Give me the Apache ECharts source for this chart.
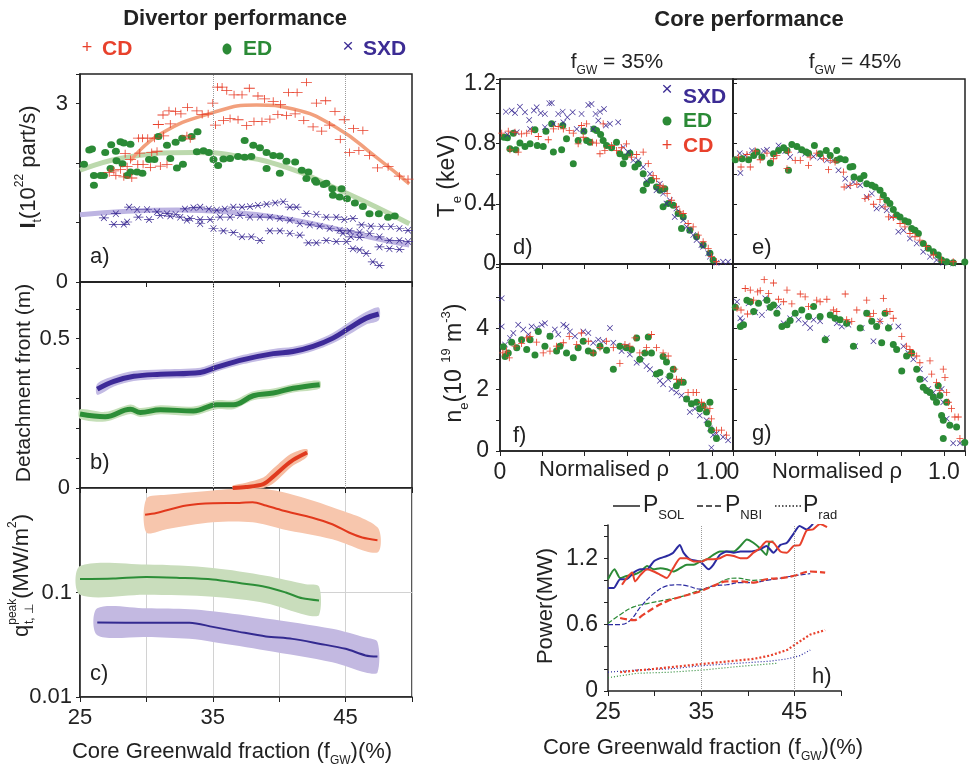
<!DOCTYPE html>
<html>
<head>
<meta charset="utf-8">
<script src="https://cdn.jsdelivr.net/npm/echarts@6.0.0/dist/echarts.min.js"></script>
<style>
html,body{margin:0;padding:0;background:#fff;}
#main{width:976px;height:767px;}
</style>
</head>
<body>
<div id="main"></div>
<script>
var FONT = 'Liberation Sans, Arial, sans-serif';
var RED = '#e8412c', GREEN = '#2b8a36', BLUE = '#3c2c94', INK = '#222';

// ---- a) particle flux I_t vs fGW  [fGW, I_t]
var aCD = [[42.05,3.36],[35.35,3.28],[35.7,3.28],[36.05,3.22],[36.6,3.15],[37.2,3.15],[37.75,3.26],[38.4,3.13],[38.9,3.08],[39.55,3.04],[40.1,2.99],[40.7,3.19],[41.35,3.19],[42.8,3.01],[43.5,3.05],[44.2,2.87],[44.9,2.73],[45.6,2.58],[46.3,2.55],[44.6,2.40],[45.3,2.18],[46.0,2.21],[46.8,2.13],[47.4,1.92],[48.2,1.94],[49.05,1.78],[49.7,1.73],[35.0,3.01],[34.65,2.83],[34.2,2.82],[33.8,2.88],[33.1,2.94],[32.6,2.83],[32.2,2.87],[31.7,2.88],[31.25,2.81],[30.9,2.65],[35.2,2.64],[35.8,2.72],[36.3,2.75],[36.9,2.73],[37.55,2.63],[38.1,2.70],[38.7,2.70],[39.3,2.74],[39.9,2.82],[40.55,2.80],[41.2,2.83],[41.85,2.72],[42.55,2.61],[43.2,2.54],[43.8,2.64],[29.4,2.42],[29.7,2.42],[30.1,2.42],[30.6,2.42],[31.3,2.46],[30.8,2.20],[30.4,2.18],[29.5,2.17],[28.8,2.06],[28.4,2.16],[29.75,1.98],[31.05,1.95],[31.55,1.98],[30.3,1.93],[29.35,1.98],[28.55,1.94],[27.55,1.87],[27.2,1.84],[28.05,1.89],[28.3,1.77],[28.9,1.75],[27.7,1.79],[33.05,2.46],[33.3,2.41],[31.8,2.66]];
var aED = [[25.3,1.98],[25.7,2.22],[25.9,2.24],[26.05,1.63],[26.05,1.79],[26.8,1.79],[26.9,2.18],[27.35,2.31],[27.7,2.20],[28.05,2.36],[28.3,2.34],[28.8,2.32],[27.75,2.04],[28.8,1.85],[29.3,1.85],[29.7,1.83],[28.2,1.99],[28.55,1.79],[30.2,2.06],[30.6,2.06],[30.9,2.45],[31.55,2.30],[32.2,2.35],[31.8,2.08],[32.3,1.92],[32.75,1.98],[32.7,2.42],[33.4,2.45],[33.85,2.53],[33.8,2.19],[34.3,2.21],[34.7,2.18],[35.05,2.06],[35.4,1.96],[35.8,2.07],[36.3,2.08],[36.9,2.11],[37.4,2.10],[37.9,2.11],[37.4,2.38],[38.05,2.30],[38.55,2.26],[39.05,2.18],[39.55,2.13],[40.05,2.12],[40.55,2.03],[41.2,2.02],[39.05,1.91],[40.05,1.83],[41.7,1.88],[42.2,1.85],[42.8,1.68],[43.35,1.64],[44.0,1.57],[44.7,1.57],[44.05,1.46],[44.55,1.43],[45.1,1.40],[45.7,1.33],[46.3,1.27],[46.8,1.15],[47.5,1.15],[48.2,1.09],[48.7,1.11],[42.05,1.74],[42.7,1.71],[43.55,1.66],[27.3,1.91],[26.55,1.79]];
var aSXD = [[28.7,1.26],[29.3,1.22],[30.05,1.22],[30.8,1.18],[31.55,1.15],[32.2,1.14],[32.9,1.23],[33.55,1.25],[34.05,1.26],[34.7,1.23],[35.3,1.21],[35.9,1.23],[36.55,1.26],[37.2,1.26],[37.8,1.27],[38.4,1.29],[39.05,1.31],[39.7,1.33],[40.3,1.35],[40.8,1.26],[41.3,1.26],[42.05,1.15],[42.8,1.14],[43.55,1.09],[44.3,1.09],[44.9,1.05],[45.55,1.07],[46.2,0.96],[46.9,0.94],[47.7,0.93],[48.4,0.93],[49.05,0.90],[49.7,0.87],[26.8,1.08],[27.7,1.15],[28.55,1.01],[29.4,1.09],[30.2,1.05],[31.05,1.12],[31.8,1.11],[32.55,1.09],[33.3,1.07],[34.05,1.05],[34.8,1.05],[35.55,1.09],[36.3,1.09],[37.05,1.12],[37.8,1.09],[38.55,1.09],[39.3,1.09],[40.05,1.07],[40.8,1.04],[41.55,0.98],[42.3,0.96],[43.05,0.94],[43.8,0.90],[44.55,0.87],[45.3,0.86],[46.05,0.84],[46.8,0.82],[47.55,0.76],[48.3,0.70],[49.05,0.70],[49.7,0.68],[27.55,0.97],[28.3,0.97],[33.05,1.04],[34.05,0.98],[35.05,0.90],[35.8,0.86],[36.55,0.83],[37.2,0.76],[37.9,0.76],[38.55,0.70],[39.3,0.86],[40.05,0.86],[40.8,0.82],[41.55,0.79],[42.2,0.66],[42.8,0.66],[43.55,0.70],[44.3,0.68],[45.05,0.68],[45.55,0.56],[46.05,0.54],[46.55,0.48],[47.05,0.34],[47.55,0.28],[44.8,0.82],[45.4,0.76],[46.05,0.75],[47.55,0.59],[48.3,0.56],[49.05,0.55]];
var aFitCDx = [28.8,31.05,35,38.3,41.05,44.3,47.3,49.8];
var aFitCDy = [2.04,2.49,2.85,2.98,2.91,2.60,2.10,1.65];
var aFitEDx = [25,28.55,33.55,36.55,40.55,44.05,47.3,49.8];
var aFitEDy = [1.88,2.10,2.18,2.13,1.93,1.60,1.26,0.98];
var aFitSXDx = [25,28.55,32.3,36.05,39.8,43.55,47.3,49.8];
var aFitSXDy = [1.13,1.19,1.21,1.18,1.09,0.93,0.73,0.62];

// ---- b) detachment front position (m)
var bSXDx = [26.3,27.55,29.05,31.05,34.05,35.3,37.3,39.55,41.05,42.55,44.05,45.3,46.55,47.5];
var bSXDy = [0.331,0.357,0.374,0.381,0.387,0.405,0.430,0.450,0.457,0.474,0.502,0.536,0.569,0.583];
var bSXDlo = [0.312,0.340,0.358,0.366,0.372,0.390,0.415,0.435,0.442,0.459,0.485,0.515,0.548,0.562];
var bSXDhi = [0.349,0.375,0.392,0.397,0.403,0.421,0.446,0.466,0.473,0.490,0.520,0.556,0.590,0.605];
var bEDx = [25,26.9,28.8,29.55,31.05,33.55,35.3,36.55,38.05,39.55,41.05,43.05];
var bEDy = [0.248,0.239,0.264,0.253,0.262,0.258,0.279,0.279,0.309,0.318,0.334,0.346];
var bEDlo = [0.232,0.223,0.248,0.238,0.247,0.243,0.264,0.264,0.294,0.303,0.320,0.333];
var bEDhi = [0.264,0.255,0.280,0.268,0.277,0.273,0.294,0.294,0.324,0.333,0.348,0.359];
var bCDx = [36.5,37.5,38.8,39.55,40.3,41.05,42.1];
var bCDy = [0.0,0.003,0.013,0.038,0.068,0.094,0.119];
var bCDlo = [0,0,0,0.015,0.045,0.075,0.105];
var bCDhi = [0.008,0.018,0.035,0.065,0.095,0.118,0.13];

// ---- c) peak heat flux (MW/m2), log scale
var cCDx = [29.9,30.75,33.0,35.0,37.0,38.0,39.0,40.25,42.5,44.0,45.25,46.25,47.4];
var cCDy = [0.556,0.577,0.68,0.716,0.72,0.73,0.68,0.61,0.52,0.45,0.375,0.336,0.316];
var cCDbx = [30.0,31.5,35.0,38.0,40.25,44.0,47.4];
var cCDhi = [0.789,0.86,0.948,1.0,0.914,0.654,0.420];
var cCDlo = [0.375,0.404,0.469,0.469,0.404,0.324,0.241];
var cEDx = [25,27.5,30,32.5,35,37,39,40.5,41.75,43];
var cEDy = [0.1346,0.136,0.141,0.138,0.133,0.123,0.113,0.100,0.088,0.084];
var cEDbx = [25,30,35,39,42,43];
var cEDhi = [0.179,0.185,0.172,0.145,0.12,0.114];
var cEDlo = [0.095,0.095,0.091,0.079,0.061,0.061];
var cSXDx = [26.3,30,33.25,35,37,39,41,43,45,46.5,47.4];
var cSXDy = [0.0516,0.0513,0.0513,0.0469,0.042,0.038,0.036,0.0324,0.0289,0.025,0.0244];
var cSXDbx = [26.3,30,33.25,35,39,44,46.5,47.4];
var cSXDhi = [0.0705,0.0705,0.069,0.066,0.0565,0.045,0.037,0.0336];
var cSXDlo = [0.039,0.0375,0.036,0.0336,0.0279,0.0215,0.0172,0.0172];

// ---- d) Te profiles, fGW = 35%  [rho, Te]
var dSXD = [[0.028,1.013],[0.055,1.020],[0.071,1.004],[0.094,1.046],[0.118,1.009],[0.138,0.958],[0.160,1.020],[0.173,1.042],[0.192,1.004],[0.212,0.998],[0.233,1.068],[0.244,1.071],[0.275,0.998],[0.296,1.013],[0.318,0.976],[0.343,1.009],[0.362,0.898],[0.385,0.998],[0.417,1.057],[0.432,1.064],[0.451,0.998],[0.472,1.013],[0.491,1.031],[0.500,0.921],[0.519,0.932],[0.558,0.943],[0.035,0.861],[0.079,0.876],[0.142,0.898],[0.212,0.910],[0.252,0.932],[0.299,0.943],[0.393,0.887],[0.440,0.898],[0.464,0.954],[0.582,0.777],[0.605,0.744],[0.629,0.689],[0.653,0.689],[0.676,0.645],[0.708,0.600],[0.755,0.534],[0.770,0.468],[0.802,0.424],[0.833,0.369],[0.865,0.291],[0.896,0.225],[0.928,0.159],[0.959,0.115],[0.991,0.049],[1.022,0.009],[1.053,0.015],[1.077,0.015],[0.692,0.556],[0.739,0.490],[0.786,0.402],[0.825,0.313],[0.881,0.247],[0.912,0.192],[0.951,0.126],[0.983,0.071]];
var dED = [[0.019,0.843],[0.035,0.839],[0.047,0.766],[0.075,0.759],[0.063,0.870],[0.094,0.804],[0.118,0.781],[0.142,0.799],[0.165,0.892],[0.176,0.788],[0.204,0.781],[0.217,0.883],[0.244,0.932],[0.252,0.744],[0.291,0.759],[0.296,0.921],[0.314,0.832],[0.346,0.667],[0.369,0.821],[0.396,0.883],[0.409,0.821],[0.425,0.810],[0.443,0.898],[0.456,0.887],[0.475,0.861],[0.487,0.821],[0.503,0.788],[0.527,0.773],[0.550,0.810],[0.566,0.733],[0.590,0.711],[0.613,0.737],[0.637,0.645],[0.653,0.667],[0.676,0.600],[0.692,0.534],[0.715,0.556],[0.739,0.512],[0.755,0.490],[0.778,0.501],[0.794,0.402],[0.818,0.391],[0.841,0.336],[0.865,0.313],[0.896,0.225],[0.928,0.181],[0.959,0.126],[0.991,0.071],[1.006,0.026],[0.582,0.667],[0.676,0.490],[0.770,0.380],[0.857,0.236]];
var dCD = [[0.008,0.870],[0.039,0.883],[0.071,0.876],[0.102,0.865],[0.126,0.870],[0.149,0.883],[0.181,0.848],[0.228,0.826],[0.252,0.898],[0.275,0.914],[0.299,0.898],[0.327,0.887],[0.346,0.870],[0.385,0.921],[0.409,0.932],[0.436,0.810],[0.456,0.804],[0.472,0.733],[0.495,0.755],[0.527,0.788],[0.550,0.755],[0.574,0.773],[0.597,0.799],[0.621,0.711],[0.645,0.728],[0.676,0.744],[0.700,0.667],[0.723,0.589],[0.739,0.567],[0.755,0.523],[0.770,0.512],[0.789,0.468],[0.810,0.424],[0.833,0.380],[0.849,0.347],[0.865,0.336],[0.888,0.269],[0.912,0.247],[0.936,0.192],[0.959,0.148],[0.983,0.104],[0.998,0.049],[1.022,0.015],[0.047,0.759],[0.086,0.744],[0.369,0.799],[0.487,0.932],[0.393,0.843]];

// ---- e) Te profiles, fGW = 45%
var eED = [[0.011,0.693],[0.043,0.700],[0.074,0.693],[0.098,0.722],[0.114,0.744],[0.137,0.711],[0.177,0.671],[0.192,0.733],[0.216,0.755],[0.240,0.773],[0.256,0.755],[0.279,0.795],[0.303,0.781],[0.326,0.759],[0.347,0.744],[0.358,0.737],[0.386,0.788],[0.413,0.733],[0.442,0.755],[0.461,0.722],[0.492,0.755],[0.508,0.700],[0.532,0.693],[0.555,0.645],[0.568,0.649],[0.574,0.578],[0.603,0.567],[0.621,0.589],[0.634,0.534],[0.658,0.523],[0.674,0.512],[0.697,0.490],[0.713,0.457],[0.729,0.424],[0.744,0.402],[0.760,0.362],[0.776,0.325],[0.792,0.313],[0.815,0.287],[0.831,0.280],[0.847,0.236],[0.863,0.225],[0.879,0.203],[0.902,0.137],[0.926,0.104],[0.950,0.082],[0.973,0.060],[0.989,0.026],[1.013,0.015],[1.044,0.009],[1.099,0.013],[0.263,0.623],[0.492,0.689]];
var eSXD = [[0.032,0.737],[0.035,0.605],[0.058,0.722],[0.090,0.755],[0.145,0.751],[0.161,0.759],[0.216,0.788],[0.248,0.751],[0.271,0.711],[0.319,0.755],[0.342,0.733],[0.382,0.715],[0.413,0.706],[0.445,0.689],[0.476,0.689],[0.500,0.623],[0.532,0.567],[0.547,0.517],[0.571,0.545],[0.603,0.523],[0.634,0.446],[0.658,0.468],[0.681,0.369],[0.705,0.380],[0.729,0.358],[0.752,0.313],[0.784,0.214],[0.808,0.225],[0.839,0.170],[0.871,0.137],[0.902,0.082],[0.934,0.049],[0.965,0.026],[0.997,0.009],[1.044,0.004]];
var eCD = [[0.027,0.711],[0.038,0.645],[0.066,0.728],[0.082,0.645],[0.106,0.751],[0.129,0.693],[0.161,0.737],[0.192,0.700],[0.208,0.722],[0.256,0.634],[0.263,0.744],[0.295,0.689],[0.319,0.689],[0.358,0.656],[0.366,0.711],[0.397,0.737],[0.429,0.700],[0.453,0.627],[0.461,0.689],[0.484,0.678],[0.524,0.611],[0.527,0.512],[0.555,0.523],[0.587,0.530],[0.626,0.435],[0.642,0.446],[0.666,0.397],[0.697,0.428],[0.721,0.380],[0.737,0.313],[0.760,0.309],[0.792,0.269],[0.815,0.247],[0.839,0.203],[0.863,0.181],[0.886,0.159],[0.918,0.115],[0.950,0.060],[0.989,0.026],[1.044,0.015]];

// ---- f) ne profiles, fGW = 35%  [rho, ne]
var fSXD = [[0.008,4.98],[0.008,4.06],[0.024,3.47],[0.047,3.69],[0.063,3.85],[0.086,4.12],[0.110,3.96],[0.134,3.80],[0.149,4.06],[0.173,4.01],[0.197,4.12],[0.212,4.17],[0.236,3.74],[0.259,3.96],[0.275,3.80],[0.299,4.12],[0.314,4.06],[0.330,3.90],[0.354,3.74],[0.393,3.90],[0.417,3.85],[0.440,3.53],[0.464,3.63],[0.487,3.58],[0.519,4.01],[0.535,3.53],[0.574,3.26],[0.597,3.42],[0.613,3.15],[0.645,2.88],[0.668,2.94],[0.692,2.77],[0.708,2.67],[0.731,2.51],[0.755,2.29],[0.770,2.18],[0.794,2.34],[0.810,2.02],[0.833,1.91],[0.857,1.81],[0.881,1.70],[0.896,1.27],[0.920,1.38],[0.943,1.16],[0.975,1.00],[0.991,0.73],[1.006,0.52],[1.022,0.57],[1.053,0.46],[1.077,0.35],[0.998,0.11]];
var fED = [[0.016,3.40],[0.024,3.08],[0.039,3.20],[0.055,3.55],[0.079,3.37],[0.102,3.63],[0.126,3.31],[0.142,3.63],[0.165,3.13],[0.181,3.90],[0.212,3.42],[0.236,3.74],[0.267,3.26],[0.283,3.42],[0.314,3.20],[0.346,3.04],[0.369,3.37],[0.393,3.58],[0.417,3.26],[0.440,3.20],[0.472,3.42],[0.503,3.29],[0.535,2.67],[0.566,3.42],[0.597,3.37],[0.621,3.31],[0.645,3.69],[0.660,2.99],[0.684,3.20],[0.700,3.72],[0.715,3.20],[0.739,2.51],[0.755,2.56],[0.770,3.08],[0.786,2.90],[0.802,2.45],[0.818,2.67],[0.833,2.13],[0.849,2.24],[0.865,2.24],[0.881,1.70],[0.904,1.54],[0.928,1.59],[0.943,1.38],[0.959,1.48],[0.975,1.27],[0.991,1.59],[0.983,0.89],[0.998,0.68],[1.022,0.41]];
var fCD = [[0.013,3.20],[0.031,3.26],[0.044,3.04],[0.071,3.42],[0.102,3.51],[0.126,3.69],[0.142,3.74],[0.173,3.55],[0.204,3.20],[0.236,3.26],[0.267,3.42],[0.299,3.53],[0.327,3.74],[0.362,3.47],[0.385,3.85],[0.417,3.58],[0.440,3.20],[0.472,3.37],[0.503,3.58],[0.535,3.37],[0.566,2.86],[0.590,3.47],[0.613,3.42],[0.637,3.69],[0.660,3.20],[0.692,3.37],[0.715,3.80],[0.739,3.37],[0.770,3.20],[0.794,3.10],[0.825,2.67],[0.833,2.34],[0.857,2.29],[0.888,1.91],[0.912,1.91],[0.928,1.91],[0.951,1.59],[0.967,1.43],[0.991,1.38],[0.998,1.05],[1.022,0.68],[1.046,0.68],[1.069,0.52]];

// ---- g) ne profiles, fGW = 45%
var gCD = [[0.019,4.66],[0.038,4.60],[0.058,5.30],[0.069,4.47],[0.082,5.25],[0.098,4.92],[0.117,5.19],[0.129,5.23],[0.148,5.59],[0.169,5.14],[0.192,5.48],[0.216,4.95],[0.240,4.87],[0.256,5.25],[0.279,4.80],[0.319,5.12],[0.342,5.03],[0.358,4.71],[0.397,4.92],[0.413,4.87],[0.445,4.95],[0.476,4.60],[0.492,4.55],[0.532,5.12],[0.539,4.28],[0.563,4.23],[0.587,4.60],[0.634,4.92],[0.650,4.39],[0.666,4.49],[0.697,4.23],[0.713,4.98],[0.729,4.55],[0.744,4.55],[0.760,4.33],[0.800,3.74],[0.823,3.42],[0.839,3.31],[0.871,3.10],[0.886,2.88],[0.934,2.94],[0.942,2.51],[0.965,2.24],[0.981,1.97],[0.997,2.67],[1.005,2.40],[1.013,1.91],[1.021,1.59],[1.036,1.38],[1.052,1.11],[1.068,1.11],[1.076,0.41],[0.847,3.18]];
var gED = [[0.011,4.69],[0.035,4.06],[0.050,4.12],[0.066,4.92],[0.082,4.87],[0.098,4.55],[0.121,4.82],[0.161,4.92],[0.177,4.69],[0.192,4.76],[0.208,4.49],[0.232,4.06],[0.256,4.12],[0.271,4.26],[0.295,4.49],[0.326,4.60],[0.358,4.39],[0.382,4.71],[0.413,4.39],[0.437,3.63],[0.461,4.44],[0.484,4.33],[0.508,4.28],[0.539,4.17],[0.571,3.42],[0.603,4.01],[0.634,4.49],[0.658,4.23],[0.681,4.06],[0.705,3.53],[0.721,4.49],[0.737,4.01],[0.760,3.47],[0.776,3.31],[0.800,2.61],[0.823,3.10],[0.847,3.20],[0.871,2.67],[0.886,2.34],[0.902,2.08],[0.918,1.97],[0.934,1.91],[0.950,1.75],[0.965,1.59],[0.981,1.81],[0.989,1.16],[0.997,1.00],[1.013,1.59],[1.028,0.84],[1.060,0.78],[0.997,0.41],[1.099,0.28],[0.973,2.13]];
var gSXD = [[0.019,4.87],[0.035,4.33],[0.043,4.23],[0.074,4.82],[0.106,4.52],[0.137,4.44],[0.153,4.98],[0.169,4.66],[0.216,4.71],[0.240,4.17],[0.271,4.33],[0.311,4.28],[0.342,4.17],[0.366,4.01],[0.382,4.28],[0.413,4.23],[0.445,3.69],[0.492,4.17],[0.516,4.06],[0.547,4.12],[0.579,3.42],[0.610,4.01],[0.634,4.49],[0.666,3.58],[0.697,4.23],[0.744,4.06],[0.784,4.06],[0.808,3.42],[0.831,3.20],[0.855,2.99],[0.886,2.67],[0.910,2.34],[0.926,2.02],[0.950,1.91],[0.965,1.70],[0.989,2.02],[0.997,1.59],[1.013,1.05],[1.044,0.25],[1.076,0.25]];

// ---- h) power balance (MW) vs fGW
var hSolBlueX = [25,25.6,26.3,27.0,27.75,28.5,29.2,29.9,30.6,31.3,32.0,32.7,33.1,33.8,34.9,35.8,36.3,37.0,37.75,38.5,39.2,40.25,41.3,42.0,42.75,43.5,44.2,44.9,45.55,46.3,47.0];
var hSolBlueY = [0.93,0.93,1.01,1.01,1.07,1.10,1.10,1.17,1.20,1.22,1.25,1.32,1.25,1.19,1.17,1.10,1.14,1.23,1.26,1.25,1.26,1.26,1.28,1.31,1.25,1.32,1.34,1.42,1.49,1.46,1.51];
var hSolGreenX = [25,25.7,26.3,27.0,27.75,28.5,29.2,29.9,30.6,31.3,32.0,32.75,33.45,34.2,34.9,35.6,36.3,37.0,37.75,38.5,39.2,39.9,40.6,41.3,42.0,42.3,42.75];
var hSolGreenY = [1.01,1.10,1.02,1.04,1.05,1.08,1.13,1.10,1.11,1.10,1.08,1.11,1.14,1.14,1.17,1.19,1.23,1.26,1.26,1.26,1.31,1.37,1.34,1.29,1.23,1.34,1.35];
var hSolRedX = [26.5,27.0,27.6,27.9,28.5,29.2,29.9,30.6,31.3,32.0,32.75,33.45,34.2,35.1,35.6,36.3,37.0,37.75,38.5,39.2,39.9,40.6,41.3,42.0,42.75,43.5,44.2,44.9,45.6,46.3,47.0,47.75,48.5];
var hSolRedY = [0.96,1.02,1.07,0.99,1.05,1.10,1.08,1.05,1.02,1.11,1.20,1.20,1.17,1.17,1.19,1.19,1.20,1.23,1.22,1.20,1.20,1.25,1.29,1.35,1.34,1.26,1.25,1.31,1.32,1.45,1.46,1.51,1.48];
var hNbiBlueX = [25,26.3,27.4,28.5,29.9,31.3,32.4,33.5,34.9,36.3,37.75,39.2,40.6,42.0,43.5,44.9,46.7];
var hNbiBlueY = [0.60,0.60,0.64,0.76,0.88,0.95,0.96,0.95,0.92,0.95,0.96,0.98,0.98,1.00,1.02,1.04,1.06];
var hNbiGreenX = [25,26.3,27.75,29.2,31.0,32.75,34.5,36.3,37.75,38.8,40.6,42.0];
var hNbiGreenY = [0.61,0.69,0.76,0.79,0.82,0.85,0.90,0.95,1.01,1.02,1.00,1.01];
var hNbiRedX = [26.3,27.75,28.8,29.9,31.3,32.75,34.5,36.3,37.75,39.2,40.6,42.0,43.5,44.9,46.7,48.3];
var hNbiRedY = [0.66,0.64,0.69,0.75,0.81,0.85,0.89,0.95,0.99,0.99,0.98,1.01,1.02,1.04,1.08,1.07];
var hRadRedX = [26.3,29.9,33.45,37.0,40.6,42.4,44.2,45.25,46.7,48.3];
var hRadRedY = [0.17,0.20,0.23,0.26,0.29,0.32,0.37,0.43,0.51,0.55];
var hRadBlueX = [25,28.1,31.7,35.25,38.8,42.4,44.2,45.6,46.7];
var hRadBlueY = [0.17,0.19,0.20,0.23,0.25,0.27,0.29,0.32,0.37];
var hRadGreenX = [25,28.1,31.7,35.25,38.8,43.1];
var hRadGreenY = [0.12,0.16,0.17,0.19,0.22,0.25];

var PLUS = 'path://M0,4.4H10V5.6H0Z M4.4,0H5.6V10H4.4Z';
var CROSS = 'path://M0.8,0L5,4.2L9.2,0L10,0.8L5.8,5L10,9.2L9.2,10L5,5.8L0.8,10L0,9.2L4.2,5L0,0.8Z';
// panel a markers carry a short horizontal error bar
var PLUS_BAR = 'path://M0,4.5H16V5.5H0Z M7.4,0H8.6V10H7.4Z';
var CROSS_BAR = 'path://M0,4.6H14V5.4H0Z M3.2,1L7,4.3L10.8,1L11.4,1.6L7.7,5L11.4,8.4L10.8,9L7,5.7L3.2,9L2.6,8.4L6.3,5L2.6,1.6Z';

function pairs(xs, ys) {
  return xs.map(function (x, i) { return [x, ys[i]]; });
}
function pick(vals, texts) {
  return function (v) {
    for (var i = 0; i < vals.length; i++) {
      if (Math.abs(v - vals[i]) < 1e-6) return texts ? texts[i] : String(vals[i]);
    }
    return '';
  };
}
function scatter(gi, data, sym, size, color, z) {
  return {type: 'scatter', xAxisIndex: gi, yAxisIndex: gi, data: data, symbol: sym, symbolSize: size,
    itemStyle: {color: color, opacity: 1}, z: z || 3, silent: true};
}
function curve(gi, xs, ys, color, width, dash, smooth, z, opacity) {
  return {type: 'line', xAxisIndex: gi, yAxisIndex: gi, data: pairs(xs, ys), showSymbol: false, symbol: 'none',
    smooth: smooth, z: z || 3, silent: true,
    lineStyle: {color: color, width: width, type: dash || 'solid', opacity: opacity == null ? 1 : opacity}};
}
function band(gi, xs, lo, hi, color) {
  return {type: 'custom', xAxisIndex: gi, yAxisIndex: gi, z: 1, silent: true,
    data: [[xs[0], lo[0]]],
    renderItem: function (params, api) {
      var pts = [];
      for (var i = 0; i < xs.length; i++) pts.push(api.coord([xs[i], hi[i]]));
      for (var j = xs.length - 1; j >= 0; j--) pts.push(api.coord([xs[j], lo[j]]));
      return {type: 'polygon', shape: {points: pts, smooth: 0.3}, style: {fill: color}};
    }};
}
function vlines(series) {
  series.markLine = {silent: true, symbol: 'none', label: {show: false}, animation: false,
    lineStyle: {type: 'dotted', color: '#9a9a9a', width: 1}, data: [{xAxis: 35}, {xAxis: 45}]};
  return series;
}

var AXL = {onZero: false, lineStyle: {color: INK, width: 1.5}};
function xAx(gi, min, max, itv, fmt, size, opts) {
  var o = {type: 'value', gridIndex: gi, min: min, max: max, interval: itv,
    axisLine: AXL, axisTick: {show: true, length: 5, lineStyle: {color: INK}},
    axisLabel: {show: !!fmt, formatter: fmt, fontSize: size || 22, fontFamily: FONT, color: INK, margin: 10},
    splitLine: {show: false}};
  return Object.assign(o, opts || {});
}
function yAx(gi, min, max, itv, fmt, size, margin, opts) {
  var o = {type: 'value', gridIndex: gi, min: min, max: max, interval: itv,
    axisLine: AXL, axisTick: {show: true, length: 4, lineStyle: {color: INK}},
    axisLabel: {show: !!fmt, formatter: fmt, fontSize: size || 22, fontFamily: FONT, color: INK, margin: margin || 10},
    splitLine: {show: false}};
  return Object.assign(o, opts || {});
}
var insideTick = {axisTick: {show: true, inside: true, length: 4, lineStyle: {color: INK}}};
var frame = {show: true, borderColor: INK, borderWidth: 1.5, backgroundColor: 'transparent'};

function rich(size, color) {
  return {
    m: {fontSize: size, fontFamily: FONT, fill: color, lineHeight: size + 8},
    b: {fontSize: size, fontFamily: FONT, fontWeight: 'bold', fill: color, lineHeight: size + 8},
    s: {fontSize: Math.round(size * 0.55), fontFamily: FONT, fill: color, verticalAlign: 'bottom', lineHeight: Math.round(size * 0.6)},
    p: {fontSize: Math.round(size * 0.55), fontFamily: FONT, fill: color, verticalAlign: 'top', lineHeight: Math.round(size * 0.6)}
  };
}
function txt(x, y, text, size, color, o) {
  o = o || {};
  return {type: 'text', x: x, y: y, rotation: o.rot || 0, silent: true, z: 100,
    style: {text: text, fill: color || INK, fontSize: size, fontFamily: FONT, fontWeight: o.bold ? 'bold' : 'normal',
      align: o.align || 'center', verticalAlign: 'middle', rich: o.rich ? rich(size, color || INK) : undefined}};
}
function key(x, y, dash, width) {
  return {type: 'line', silent: true, z: 100, shape: {x1: x, y1: y, x2: x + 27, y2: y},
    style: {stroke: INK, lineWidth: width, lineDash: dash}};
}
var R90 = Math.PI / 2;

var chart = echarts.init(document.getElementById('main'));

var series = [
  // a)
  curve(0, aFitSXDx, aFitSXDy, '#bdb4e2', 5, null, true, 2),
  curve(0, aFitEDx, aFitEDy, '#bcd9ad', 5, null, true, 2),
  vlines(curve(0, aFitCDx, aFitCDy, '#f2a07d', 3.5, null, true, 2)),
  scatter(0, aED, 'circle', [8, 7], GREEN, 3),
  scatter(0, aCD, PLUS_BAR, [11, 8], RED, 4),
  scatter(0, aSXD, CROSS_BAR, [10, 7], BLUE, 4),
  // b)
  band(1, bSXDx, bSXDlo, bSXDhi, '#c3bbe4'),
  band(1, bEDx, bEDlo, bEDhi, '#c5dfb8'),
  band(1, bCDx, bCDlo, bCDhi, '#f6bda2'),
  vlines(curve(1, bSXDx, bSXDy, '#3d2a98', 5, null, 0.4, 3)),
  curve(1, bEDx, bEDy, '#2c8e37', 5, null, 0.4, 3),
  curve(1, bCDx, bCDy, '#e03a1e', 4, null, 0.3, 3),
  // c)
  band(2, cCDbx, cCDlo, cCDhi, '#f7c6ad'),
  band(2, cEDbx, cEDlo, cEDhi, '#c9ddbc'),
  band(2, cSXDbx, cSXDlo, cSXDhi, '#c3b9e1'),
  curve(2, cCDx, cCDy, '#e2381c', 2, null, 0.3, 3),
  curve(2, cEDx, cEDy, '#2c8e37', 2, null, 0.3, 3),
  curve(2, cSXDx, cSXDy, '#332a90', 2, null, 0.3, 3),
  // d) - g)
  scatter(3, dED, 'circle', 7, GREEN, 3), scatter(3, dSXD, CROSS, 6, BLUE, 4), scatter(3, dCD, PLUS, 7, RED, 5),
  scatter(4, eSXD, CROSS, 6, BLUE, 3), scatter(4, eED, 'circle', 7, GREEN, 4), scatter(4, eCD, PLUS, 7, RED, 5),
  scatter(5, fSXD, CROSS, 6, BLUE, 3), scatter(5, fED, 'circle', 7, GREEN, 4), scatter(5, fCD, PLUS, 7, RED, 5),
  scatter(6, gSXD, CROSS, 6, BLUE, 3), scatter(6, gED, 'circle', 7, GREEN, 4), scatter(6, gCD, PLUS, 7, RED, 5),
  // h)
  vlines(curve(7, hRadGreenX, hRadGreenY, GREEN, 1.2, [1, 2], false, 3)),
  curve(7, hRadBlueX, hRadBlueY, '#2b2ba0', 1.2, [1, 2], false, 3),
  curve(7, hRadRedX, hRadRedY, RED, 2.2, [2, 2], false, 3),
  curve(7, hNbiGreenX, hNbiGreenY, GREEN, 1.2, [5, 2], 0.4, 3),
  curve(7, hNbiBlueX, hNbiBlueY, '#2b2ba0', 1.2, [5, 2], 0.4, 3),
  curve(7, hNbiRedX, hNbiRedY, RED, 2.2, [7, 3], 0.4, 3),
  curve(7, hSolGreenX, hSolGreenY, GREEN, 2, null, 0.2, 4),
  curve(7, hSolBlueX, hSolBlueY, '#2b2ba0', 2, null, 0.2, 4),
  curve(7, hSolRedX, hSolRedY, RED, 2, null, 0.2, 4)
];

var graphics = [
  txt(235, 19, 'Divertor performance', 22, INK, {bold: true}),
  txt(749, 20, 'Core performance', 22, INK, {bold: true}),
  txt(87, 48, '+', 18, RED),
  txt(102, 49, 'CD', 21, RED, {bold: true, align: 'left'}),
  {type: 'ellipse', shape: {cx: 227, cy: 49, rx: 4.5, ry: 5.5}, style: {fill: GREEN}, silent: true, z: 100},
  txt(243, 49, 'ED', 21, GREEN, {bold: true, align: 'left'}),
  txt(348, 47, '\u00d7', 19, BLUE),
  txt(363, 49, 'SXD', 21, BLUE, {bold: true, align: 'left'}),
  txt(617, 62, '{m|f}{s|GW}{m| = 35%}', 21, INK, {rich: true}),
  txt(855, 62, '{m|f}{s|GW}{m| = 45%}', 21, INK, {rich: true}),
  // legend inside d)
  txt(667, 90, '\u00d7', 19, BLUE),
  txt(683, 97, 'SXD', 21, BLUE, {bold: true, align: 'left'}),
  {type: 'circle', shape: {cx: 667, cy: 121, r: 4.5}, style: {fill: GREEN}, silent: true, z: 100},
  txt(683, 121, 'ED', 21, GREEN, {bold: true, align: 'left'}),
  txt(667, 146, '+', 18, RED),
  txt(683, 146, 'CD', 21, RED, {bold: true, align: 'left'}),
  // panel letters
  txt(90, 257, 'a)', 22, INK, {align: 'left'}),
  txt(90, 463, 'b)', 22, INK, {align: 'left'}),
  txt(90, 674, 'c)', 22, INK, {align: 'left'}),
  txt(513, 248, 'd)', 22, INK, {align: 'left'}),
  txt(752, 248, 'e)', 22, INK, {align: 'left'}),
  txt(513, 436, 'f)', 22, INK, {align: 'left'}),
  txt(752, 434, 'g)', 22, INK, {align: 'left'}),
  txt(812, 677, 'h)', 22, INK, {align: 'left'}),
  // axis names
  txt(29, 167, '{b|I}{s|t}{m|(10}{p|22}{m| part/s)}', 22, INK, {rot: R90, rich: true}),
  txt(24, 383, 'Detachment front (m)', 21, INK, {rot: R90}),
  txt(22, 637, '{m|q}{p|peak}{m|(MW/m}{p|2}{m|)}', 22, INK, {rot: R90, rich: true, align: 'left'}),
  txt(30, 614, 't, \u22a5', 12, INK, {rot: R90}),
  txt(448, 176, '{m|T}{s|e}{m| (keV)}', 23, INK, {rot: R90, rich: true}),
  txt(455, 363, '{m|n}{s|e}{m|(10 }{p|19}{m| m}{p|-3}{m|)}', 23, INK, {rot: R90, rich: true}),
  txt(546, 606, 'Power(MW)', 22, INK, {rot: R90}),
  txt(604, 470, 'Normalised \u03c1', 22, INK),
  txt(837, 472, 'Normalised \u03c1', 22, INK),
  txt(232, 752, '{m|Core Greenwald fraction (f}{s|GW}{m|)(%)}', 22, INK, {rich: true}),
  txt(703, 748, '{m|Core Greenwald fraction (f}{s|GW}{m|)(%)}', 22, INK, {rich: true}),
  // h legend
  key(613, 506, null, 1.5),
  txt(643, 506, '{m|P}{s|SOL}', 23, INK, {rich: true, align: 'left'}),
  key(697, 506, [6, 3], 1.5),
  txt(725, 506, '{m|P}{s|NBI}', 23, INK, {rich: true, align: 'left'}),
  key(775, 506, [1.5, 2], 1.5),
  txt(803, 506, '{m|P}{s|rad}', 23, INK, {rich: true, align: 'left'})
];

chart.setOption({
  animation: false,
  backgroundColor: '#fff',
  grid: [
    Object.assign({left: 80, top: 74, width: 332, height: 208}, frame),
    Object.assign({left: 80, top: 282, width: 332, height: 206}, frame),
    Object.assign({left: 80, top: 488, width: 332, height: 209}, frame),
    Object.assign({left: 500, top: 79, width: 233, height: 185}, frame),
    Object.assign({left: 733, top: 79, width: 232, height: 185}, frame),
    Object.assign({left: 500, top: 264, width: 233, height: 187}, frame),
    Object.assign({left: 733, top: 264, width: 232, height: 187}, frame),
    {left: 608, top: 525, width: 233, height: 166, show: false}
  ],
  xAxis: [
    xAx(0, 25, 50, 5, null),
    xAx(1, 25, 50, 5, null),
    xAx(2, 25, 50, 5, pick([25, 35, 45]), 22, {splitLine: {show: true, lineStyle: {color: '#d2d2d2', width: 1}}}),
    xAx(3, 0, 1.1, 0.2, null),
    xAx(4, 0, 1.1, 0.2, null),
    xAx(5, 0, 1.1, 0.2, pick([0, 1], ['0', '1.0']), 23),
    xAx(6, 0, 1.1, 0.2, pick([0, 1], ['0', '1.0']), 23),
    xAx(7, 25, 50, 5, pick([25, 35, 45]), 23)
  ],
  yAxis: [
    yAx(0, 0, 3.5, 1, pick([0, 3]), 22, 12),
    yAx(1, 0, 0.69, 0.1, pick([0, 0.5], ['0', '0.5']), 22, 10),
    {type: 'log', logBase: 10, gridIndex: 2, min: 0.01, max: 1,
      axisLine: AXL, axisTick: {show: true, length: 4, lineStyle: {color: INK}},
      axisLabel: {formatter: pick([0.01, 0.1], ['0.01', '0.1']), fontSize: 22, fontFamily: FONT, color: INK, margin: 8},
      splitLine: {show: true, lineStyle: {color: '#d2d2d2', width: 1}}},
    yAx(3, 0, 1.23, 0.2, pick([0, 0.4, 0.8, 1.2], ['0', '0.4', '0.8', '1.2']), 23, 4),
    yAx(4, 0, 1.23, 0.2, null, 23, 4, insideTick),
    yAx(5, 0, 6.1, 1, pick([0, 2, 4]), 23, 11),
    yAx(6, 0, 6.1, 1, null, 23, 4, insideTick),
    yAx(7, 0, 1.5, 0.2, pick([0, 0.6, 1.2], ['0', '0.6', '1.2']), 23, 10)
  ],
  series: series,
  graphic: graphics
});
</script>
</body>
</html>
